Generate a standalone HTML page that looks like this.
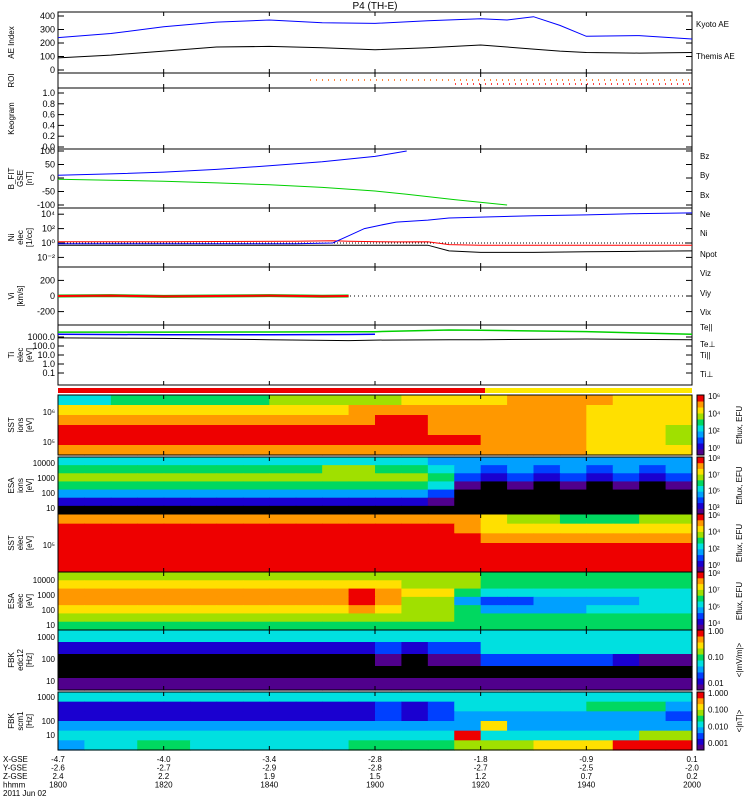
<!DOCTYPE html>
<html><head><meta charset="utf-8"><style>
body{margin:0;background:#fff}
svg text{font-family:"Liberation Sans",sans-serif;fill:#000}
</style></head><body>
<svg id="c" width="750" height="800" viewBox="0 0 750 800" xmlns="http://www.w3.org/2000/svg">
<rect width="750" height="800" fill="#fff"/>
<text x="375" y="9" font-size="10" text-anchor="middle">P4 (TH-E)</text>
<g id="g"></g>
</svg>
<script>
// ---- data ----
const aeTimes=[0,10,20,30,40,50,60,70,80,85,90,95,100,110,120];
const kyotoAE=[240,270,320,355,370,350,345,365,380,370,395,330,250,255,230];
const themisAE=[90,110,140,170,175,165,150,165,185,170,155,140,130,125,130];
const bTimes=[0,10,20,30,40,50,60,66,75,85];
const bx=[10,15,22,32,45,60,80,100,null,null];
const by=[-5,-8,-12,-18,-25,-35,-48,-60,-80,-100];
const nTimes=[0,10,20,30,45,52,55,58,61,64,70,74,80,90,100,110,120];
const ni=[0.8,0.8,0.8,0.8,0.8,1,10,100,300,800,1500,3000,4000,6000,8000,12000,15000];
const ne=[1.5,1.5,1.5,1.6,1.7,2,1.8,1.6,1.5,1.4,1.5,0.6,0.5,0.5,0.5,0.5,0.5];
const npot=[0.5,0.5,0.5,0.5,0.5,0.5,0.5,0.5,0.5,0.5,0.5,0.08,0.05,0.05,0.06,0.07,0.08];
const tTimes=[0,20,40,55,60,74,80,100,120];
const tePar=[3500,3500,3600,3800,3900,6000,5500,4000,2000];
const tiPar=[2000,1800,1800,1900,2000,null,null,null,null];
const teTot=[800,700,500,400,450,500,500,600,500];
const vTimes=[0,10,20,30,40,50,55];
const vix=[0,5,-5,0,5,-3,0];
const specCols=24;
const sstIon=["556666667777788889999888","888888888889999999998888","999999999999aa9999998888","aaaaaaaaaaaaaa9999998887","aaaaaaaaaaaaaaaa99998887","999999999999999999998888"];
const esaIon=["555555555555554444444444","666666666677665434343434","777777777777776323232323","666666666666665101010101","444444444444443000000000","222222222222221000000000","000000000000000000000000"];
const sstEl=["999999999999999987766677","aaaaaaaaaaaaaaa988888888","aaaaaaaaaaaaaaaa99999999","aaaaaaaaaaaaaaaaaaaaaaaa","aaaaaaaaaaaaaaaaaaaaaaaa","aaaaaaaaaaaaaaaaaaaaaaaa"];
const esaEl=["777777777777777766666666","888888888888877766666666","99999999999a988655555555","99999999999a977433444455","888888888889877644445555","777777777777777666666666","666666666666666666666666"];
const fbkE=["555555555555555555555555","222222222222323355555555","000000000000101133333211","000000000000000000000000","111111111111111111111111"];
const fbkB=["555555555555555555555555","222222222222323555556664","222222222222323444444443","444444444444444484444444","555555555555555a55555577","455665555556666777888aaa"];
const xLabels=["1800","1820","1840","1900","1920","1940","2000"];
const xGSE=["-4.7","-4.0","-3.4","-2.8","-1.8","-0.9","0.1"];
const yGSE=["-2.6","-2.7","-2.9","-2.8","-2.7","-2.5","-2.0"];
const zGSE=["2.4","2.2","1.9","1.5","1.2","0.7","0.2"];
// ---- helpers ----
const NS="http://www.w3.org/2000/svg",G=document.getElementById('g');
const X0=58,X1=692;
const xs=t=>X0+t*(X1-X0)/120;
function el(tag,a,p){const e=document.createElementNS(NS,tag);for(const k in a)e.setAttribute(k,a[k]);(p||G).appendChild(e);return e;}
function txt(x,y,s,sz,anchor,fill,rot){const e=el('text',{x:x,y:y,'font-size':sz||9,'text-anchor':anchor||'start',fill:fill||'#000'});if(rot)e.setAttribute('transform','rotate(-90 '+x+' '+y+')');e.textContent=s;return e;}
const cmap={'0':'#000','1':'#50008c','2':'#1a00d0','3':'#0040ff','4':'#00a0ff','5':'#00e0e0','6':'#00d860','7':'#a0e000','8':'#ffe000','9':'#ff9800','a':'#ee0000'};
function line(times,vals,ys,color,name,w){let d='';let pen=false;times.forEach((t,i)=>{const v=vals[i];if(v==null){pen=false;return;}d+=(pen?'L':'M')+xs(t).toFixed(1)+' '+ys(v).toFixed(1);pen=true;});const p=el('path',{d:d,fill:'none',stroke:color,'stroke-width':w||1});

}
function frame(y0,y1,name){const r=el('rect',{x:X0,y:y0,width:X1-X0,height:y1-y0,fill:'none',stroke:'#000','stroke-width':1});


[20,40,60,80,100].forEach(t=>{el('line',{x1:xs(t),x2:xs(t),y1:y0,y2:y0+4,stroke:'#000'});el('line',{x1:xs(t),x2:xs(t),y1:y1,y2:y1-4,stroke:'#000'});});}
function ylab(y0,y1,lines){const cy=(y0+y1)/2;lines.forEach((s,i)=>{txt(14+i*9,cy,s,8,'middle','#000',true);});}
function ticksY(list,ys){list.forEach(v=>{const y=ys(v[0]);el('line',{x1:X0,x2:X0+6,y1:y,y2:y,stroke:'#000'});el('line',{x1:X1,x2:X1-6,y1:y,y2:y,stroke:'#000'});txt(X0-3,y+3,v[1],9,'end');});}
function spec(y0,y1,grid,name){const rows=grid.length,h=(y1-y0)/rows,w=(X1-X0)/specCols;grid.forEach((row,r)=>{for(let c=0;c<specCols;c++){const k=el('rect',{x:X0+c*w,y:y0+r*h,width:w+0.6,height:h+0.6,fill:cmap[row[c]]});

}});frame(y0,y1,name+'-frame');}
function cbar(y0,y1,labs,unit,name){const keys=Object.keys(cmap).slice(1);const h=(y1-y0)/keys.length;keys.forEach((k,i)=>el('rect',{x:697,y:y1-(i+1)*h,width:7,height:h+0.5,fill:cmap[k]}));const b=el('rect',{x:697,y:y0,width:7,height:y1-y0,fill:'none',stroke:'#000'});


labs.forEach((s,i)=>txt(708,y1-4-i*(y1-y0-8)/(labs.length-1),s,8));txt(742,(y0+y1)/2,unit,8,'middle','#000',true);}
// ---- AE ----
const aeY=v=>70-v*(54/400);
frame(12,73,'ae-panel');ticksY([[0,'0'],[100,'100'],[200,'200'],[300,'300'],[400,'400']],aeY);
line(aeTimes,kyotoAE,aeY,'#0000ff','kyoto-ae-line');line(aeTimes,themisAE,aeY,'#000','themis-ae-line');
ylab(12,73,['AE Index']);txt(696,27,'Kyoto AE',8,'start','#0000ff');txt(696,59,'Themis AE',8);
// ROI
frame(73,88,'roi-panel');ylab(73,88,['ROI']);
el('line',{x1:310,x2:692,y1:80,y2:80,stroke:'#ff6000','stroke-dasharray':'1 5','stroke-width':1.5});
el('line',{x1:455,x2:692,y1:84,y2:84,stroke:'#ff0000','stroke-dasharray':'1 5','stroke-width':1.5});
// Keogram
const kY=v=>147-v*(54);
frame(88,149,'keogram-panel');ticksY([[0,'0.0'],[0.2,'0.2'],[0.4,'0.4'],[0.6,'0.6'],[0.8,'0.8'],[1,'1.0']],kY);ylab(88,149,['Keogram']);
// B
const bY=v=>178-v*0.27;
frame(149,208,'b-field-panel');ticksY([[-100,'-100'],[-50,'-50'],[0,'0'],[50,'50'],[100,'100']],bY);
line(bTimes,bx,bY,'#0000ff','bx-line');line(bTimes,by,bY,'#00d000','by-line');
ylab(149,208,['B_FIT','GSE','[nT]']);txt(700,159,'Bz',8,'start','#ff0000');txt(700,178,'By',8,'start','#00c000');txt(700,198,'Bx',8,'start','#0000ff');
// Ni
const nY=v=>243-Math.log10(v)*7.2;
frame(208,267,'density-panel');ticksY([[1e4,'10⁴'],[1e2,'10²'],[1,'10⁰'],[1e-2,'10⁻²']],nY);
el('line',{x1:X0,x2:X1,y1:nY(1),y2:nY(1),stroke:'#000','stroke-dasharray':'1 2'});
line(nTimes,npot,nY,'#000','npot-line');line(nTimes,ne,nY,'#ff0000','ne-line');line(nTimes,ni,nY,'#0000ff','ni-line');
ylab(208,267,['Ni','elec','[1/cc]']);txt(700,217,'Ne',8,'start','#ff0000');txt(700,236,'Ni',8);txt(700,257,'Npot',8,'start','#0000ff');
// V
const vY=v=>296-v*0.078;
frame(267,325,'velocity-panel');ticksY([[200,'200'],[0,'0'],[-200,'-200']],vY);
el('line',{x1:X0,x2:X1,y1:vY(0),y2:vY(0),stroke:'#000','stroke-dasharray':'1 3'});
line(vTimes,vix,vY,'#00c000','viy-line',3);line(vTimes,vix,vY,'#ff0000','vix-line',2);
ylab(267,325,['Vi','[km/s]']);txt(700,276,'Viz',8,'start','#ff0000');txt(700,296,'Viy',8,'start','#00c000');txt(700,315,'Vix',8,'start','#0000ff');
// T
const tY=v=>364-Math.log10(v)*9;
frame(325,385,'temperature-panel');ticksY([[1000,'1000.0'],[100,'100.0'],[10,'10.0'],[1,'1.0'],[0.1,'0.1']],tY);
line(tTimes,tePar,tY,'#00d000','te-par-line',1.5);line(tTimes,tiPar,tY,'#0000ff','ti-par-line',1.5);line(tTimes,teTot,tY,'#000','te-line');
ylab(325,385,['Ti','elec','[eV]']);txt(700,330,'Te||',8);txt(700,347,'Te⊥',8,'start','#ff0000');txt(700,358,'Ti||',8,'start','#00c000');txt(700,377,'Ti⊥',8,'start','#0000ff');
// bars
el('rect',{x:X0,y:388,width:485-X0,height:5,fill:'#ee0000'});el('rect',{x:485,y:388,width:X1-485,height:5,fill:'#ffe800'});
// spectrograms
spec(395,455,sstIon,'sst-ion-spectrogram');ylab(395,455,['SST','ions','[eV]']);txt(55,415,'10⁶',8,'end');txt(55,445,'10⁵',8,'end');cbar(395,455,['10⁰','10²','10⁴','10⁶'],'Eflux, EFU','sst-ion-colorbar');
spec(457,514,esaIon,'esa-ion-spectrogram');ylab(457,514,['ESA','ions','[eV]']);[['10000',466],['1000',481],['100',496],['10',511]].forEach(a=>txt(55,a[1],a[0],8,'end'));cbar(457,514,['10³','10⁵','10⁷','10⁸'],'Eflux, EFU','esa-ion-colorbar');
spec(514,572,sstEl,'sst-elec-spectrogram');ylab(514,572,['SST','elec','[eV]']);txt(55,548,'10⁵',8,'end');cbar(514,572,['10⁰','10²','10⁴','10⁶'],'Eflux, EFU','sst-elec-colorbar');
spec(572,630,esaEl,'esa-elec-spectrogram');ylab(572,630,['ESA','elec','[eV]']);[['10000',583],['1000',598],['100',613],['10',628]].forEach(a=>txt(55,a[1],a[0],8,'end'));cbar(572,630,['10⁴','10⁵','10⁷','10⁸'],'Eflux, EFU','esa-elec-colorbar');
spec(630,690,fbkE,'fbk-edc12-spectrogram');ylab(630,690,['FBK','edc12','[Hz]']);[['1000',640],['100',662],['10',684]].forEach(a=>txt(55,a[1],a[0],8,'end'));cbar(630,690,['0.01','0.10','1.00'],'<|mV/m|>','fbk-edc12-colorbar');
spec(692,750,fbkB,'fbk-scm1-spectrogram');ylab(692,750,['FBK','scm1','[Hz]']);[['1000',700],['100',724],['10',738]].forEach(a=>txt(55,a[1],a[0],8,'end'));cbar(692,750,['0.001','0.010','0.100','1.000'],'<|nT|>','fbk-scm1-colorbar');
// x-axis labels
['X-GSE','Y-GSE','Z-GSE','hhmm'].forEach((s,i)=>txt(3,762+i*8.5,s,8));txt(3,796,'2011 Jun 02',8);
const xt=[0,20,40,60,80,100,120];
xt.forEach((t,i)=>{const x=xs(t);txt(x,762,xGSE[i],8,'middle');txt(x,770.5,yGSE[i],8,'middle');txt(x,779,zGSE[i],8,'middle');const l=txt(x,787.5,xLabels[i],8,'middle');

});
</script>
</body></html>
